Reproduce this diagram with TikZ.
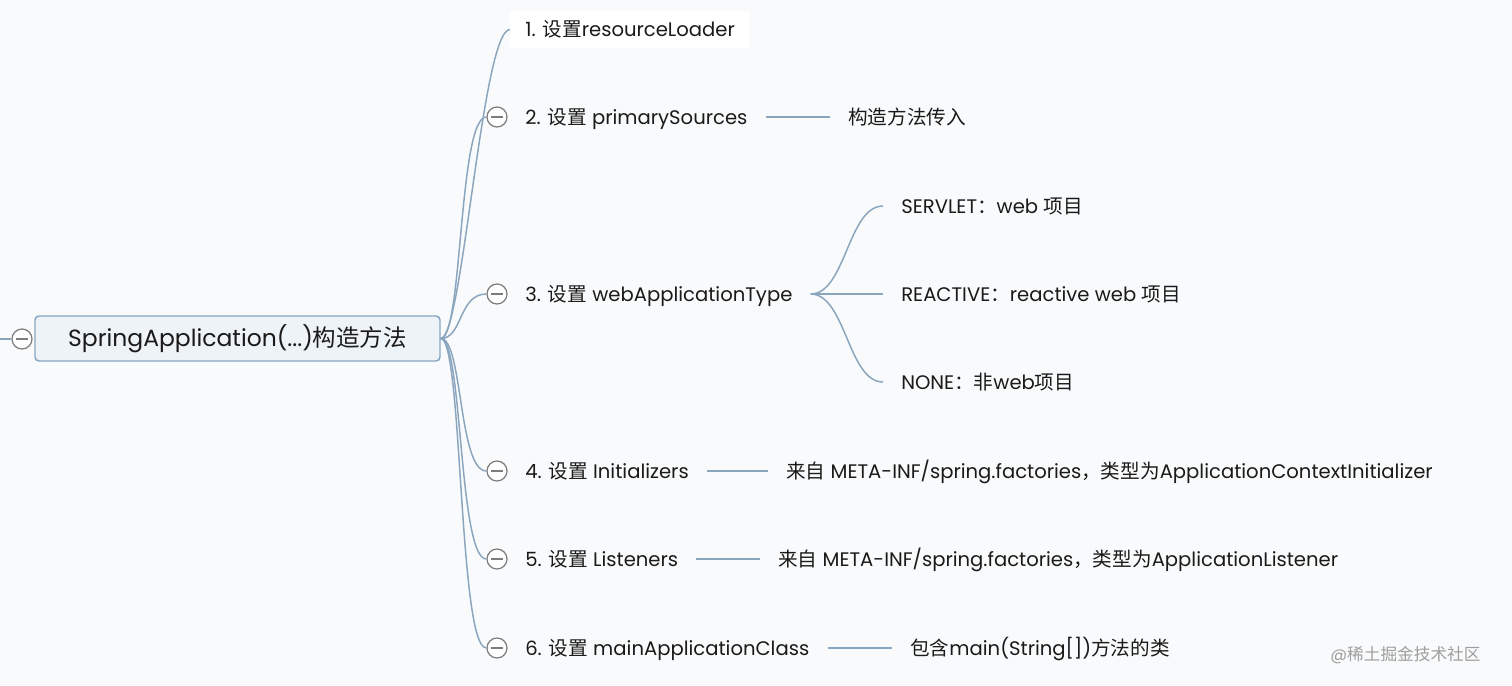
\documentclass[tikz,border=0pt]{standalone}
\usepackage{fontspec}
\setmainfont{Poppins}
\newfontfamily\zh{Noto Sans CJK SC}
\definecolor{edgec}{HTML}{8AA5BE}
\definecolor{rootfill}{HTML}{EEF3F8}
\definecolor{rootdraw}{HTML}{86A5C3}
\definecolor{circc}{HTML}{7C7C7C}
\definecolor{bgc}{HTML}{F9FAFB}
\definecolor{txt}{HTML}{1A1A1A}
\begin{document}
\begin{tikzpicture}[x=0.75pt,y=-0.75pt,
  lbl/.style={anchor=west, inner xsep=13.5pt, inner ysep=0pt, text height=10.5pt, text depth=0pt, text=txt, font=\fontsize{14.7}{18}\selectfont},
  conn/.style={draw=edgec, line width=1.1pt},
  fold/.style={circle, draw=circc, fill=white, line width=0.9pt, minimum size=15pt, inner sep=0pt,
    path picture={\draw[circc, line width=0.9pt] ([xshift=-4.5pt]path picture bounding box.center) -- ([xshift=4.5pt]path picture bounding box.center);}},
]
\useasboundingbox[fill=bgc] (0,0) rectangle (1512,685);

% root
\node[draw=rootdraw, fill=rootfill, line width=1.1pt, rounded corners=3pt, minimum width=303.75pt, minimum height=33.75pt,
  text height=12.6pt, text depth=0pt, text=txt, font=\fontsize{17.6}{22}\selectfont] (root) at (237.5,338.5)
  {SpringApplication(...){\zh 构造方法}};
\node[fold] (f0) at (22,339) {};
\coordinate (lft) at (0,339);
\draw[conn] (lft) -- (f0);

% level 1
\node[lbl, fill=white, inner xsep=11.25pt, inner ysep=8.6pt] (n1) at (510,29.5) {1. {\zh 设置}resourceLoader};
\node[fold] (f2) at (497,117) {};
\node[lbl] (n2) at (507,117) {2. {\zh 设置} primarySources};
\node[fold] (f3) at (497,294) {};
\node[lbl] (n3) at (507,294) {3. {\zh 设置} webApplicationType};
\node[fold] (f4) at (497,471) {};
\node[lbl] (n4) at (507,471) {4. {\zh 设置} Initializers};
\node[fold] (f5) at (497,559) {};
\node[lbl] (n5) at (507,559) {5. {\zh 设置} Listeners};
\node[fold] (f6) at (497,648) {};
\node[lbl] (n6) at (507,648) {6. {\zh 设置} mainApplicationClass};

\foreach \t in {n1,f2,f3,f4,f5,f6}
  \draw[conn] (root.east) .. controls +(22,0) and +(-28,0) .. (\t.west);

% level 2
\node[lbl] (d2) at (830,117) {{\zh 构造方法传入}};
\draw[conn] (n2.east) -- (d2.west);

\node[lbl] (s1) at (883,206) {SERVLET{\zh ：}web {\zh 项目}};
\node[lbl] (s2) at (883,294) {REACTIVE{\zh ：}reactive web {\zh 项目}};
\node[lbl] (s3) at (883,382) {NONE{\zh ：非}web{\zh 项目}};
\foreach \t in {s1,s2,s3}
  \draw[conn] (n3.east) .. controls +(35,0) and +(-35,0) .. (\t.west);

\node[lbl] (d4) at (768,471) {{\zh 来自} META-INF/spring.factories{\zh ，类型为}ApplicationContextInitializer};
\draw[conn] (n4.east) -- (d4.west);
\node[lbl] (d5) at (760,559) {{\zh 来自} META-INF/spring.factories{\zh ，类型为}ApplicationListener};
\draw[conn] (n5.east) -- (d5.west);
\node[lbl] (d6) at (892,648) {{\zh 包含}main(String[]){\zh 方法的类}};
\draw[conn] (n6.east) -- (d6.west);

% watermark
\node[anchor=west, inner sep=0pt, text=black!38, font=\fontsize{12.5}{15}\selectfont] (wm) at (1330,655) {@{\zh 稀土掘金技术社区}};
\end{tikzpicture}
\end{document}
